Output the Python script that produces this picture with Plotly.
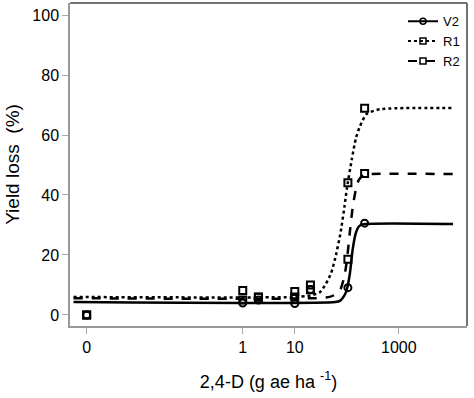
import plotly.graph_objects as go

# ---- data ----
dose_pts = [0.001, 1, 2, 10, 20, 105, 220]          # 0.001 plotted as "0"
v2_pts = [0, 4, 5, 3.8, 8.5, 9.1, 30.6]
r1_pts = [0, 8.2, 5.9, 7.8, 10, 44.1, 68.9]
r2_pts = [0, 5, 6, 6, 8.4, 18.6, 47.2]

v2_curve_x = [0.00056, 60, 75, 90, 100, 115, 130, 150, 170, 200, 11000]
v2_curve_y = [4.3, 4.3, 4.8, 6.5, 8.5, 14, 22, 27.5, 29.5, 30.2, 30.3]

r1_curve_x = [0.00056, 10, 20, 30, 40, 50, 60, 75, 90, 100, 125, 150, 180, 240, 440, 11000]
r1_curve_y = [6.0, 6.0, 6.5, 7.5, 10.5, 14, 19, 27, 36, 42, 52, 59, 63, 67, 68.6, 69]

r2_curve_x = [0.00056, 40, 55, 75, 90, 100, 115, 130, 150, 170, 210, 300, 11000]
r2_curve_y = [5.6, 5.8, 6.5, 8.5, 13, 18, 28, 36, 42, 45, 46.7, 47, 47]

x_tickvals = [0.001, 1, 10, 1000]
x_ticktext = ["0", "1", "10", "1000"]
y_tickvals = [0, 20, 40, 60, 80, 100]

FONT = "Liberation Sans, Arial, sans-serif"

fig = go.Figure()

series = [
    ("V2", v2_curve_x, v2_curve_y, v2_pts, "solid", "circle-open"),
    ("R1", r1_curve_x, r1_curve_y, r1_pts, "dot", "square-open"),
    ("R2", r2_curve_x, r2_curve_y, r2_pts, "dash", "square-open"),
]

for name, cx, cy, py, dash, sym in series:
    fig.add_trace(go.Scatter(
        x=cx, y=cy, mode="lines", name=name, legendgroup=name,
        line=dict(color="black", width=2.5, dash=dash, shape="spline", smoothing=0.6),
        showlegend=False,
    ))
    fig.add_trace(go.Scatter(
        x=dose_pts, y=py, mode="markers", name=name, legendgroup=name,
        marker=dict(symbol=sym, size=7, color="black", line=dict(width=2, color="black")),
        showlegend=False,
    ))
    # legend entry: line + marker
    fig.add_trace(go.Scatter(
        x=[None], y=[None], mode="lines+markers", name=name,
        line=dict(color="black", width=2, dash=dash),
        marker=dict(symbol=sym, size=6, color="black", line=dict(width=1.5, color="black")),
    ))

fig.update_layout(
    width=474, height=398,
    margin=dict(l=70, r=7, t=3, b=72, autoexpand=False),
    paper_bgcolor="white", plot_bgcolor="white",
    font=dict(family=FONT, color="black"),
    legend=dict(x=0.995, y=0.99, xanchor="right", yanchor="top",
                font=dict(size=13, family=FONT), bgcolor="rgba(0,0,0,0)",
                tracegroupgap=0, itemwidth=30, itemclick=False, itemdoubleclick=False),
    xaxis=dict(
        type="log", range=[-3.32, 4.31], automargin=False,
        tickvals=x_tickvals, ticktext=x_ticktext,
        ticks="outside", ticklen=6, tickcolor="#aaaaaa", tickwidth=1,
        showline=True, linecolor="#999999", linewidth=1.5,
        showgrid=False, zeroline=False,
        tickfont=dict(size=16, family=FONT),
        title=dict(text="2,4-D (g ae ha <sup>-1</sup>)", font=dict(size=18, family=FONT), standoff=20),
    ),
    yaxis=dict(
        range=[-3.67, 104], automargin=False,
        tickvals=y_tickvals,
        ticks="outside", ticklen=6, tickcolor="#aaaaaa", tickwidth=1,
        showline=True, linecolor="#999999", linewidth=1.5,
        showgrid=False, zeroline=False,
        tickfont=dict(size=16, family=FONT),
        title=dict(text="Yield loss  (%)", font=dict(size=19, family=FONT), standoff=8),
    ),
    shapes=[
        dict(type="line", xref="paper", yref="paper", x0=0, x1=1, y0=1, y1=1,
             line=dict(color="#444444", width=1.5)),
        dict(type="line", xref="paper", yref="paper", x0=1, x1=1, y0=0, y1=1,
             line=dict(color="#444444", width=1.5)),
    ],
)

fig.write_html("out.html", config={"displayModeBar": False},
               post_script="document.body.style.margin='0';")
